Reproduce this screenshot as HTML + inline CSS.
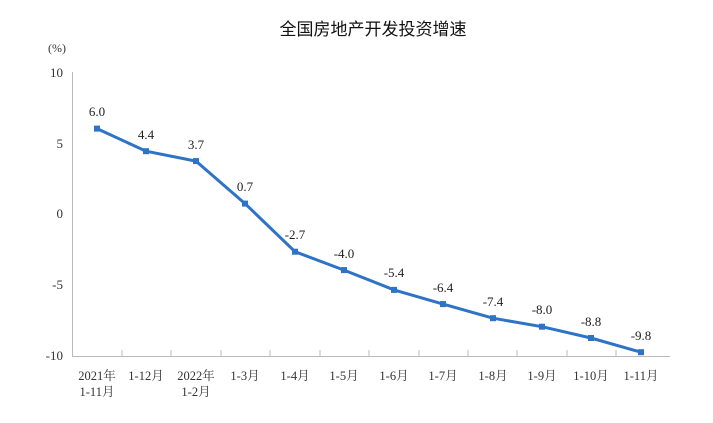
<!DOCTYPE html><html><head><meta charset="utf-8"><style>body{margin:0;background:#fff}</style></head><body>
<svg width="713" height="418" xmlns="http://www.w3.org/2000/svg" font-family="Liberation Serif, Noto Serif CJK SC, serif">
<text x="373" y="35" text-anchor="middle" font-size="17" font-family="Liberation Sans, Noto Sans CJK SC, sans-serif" fill="#111">全国房地产开发投资增速</text>
<text x="48" y="52" font-size="12" fill="#333">(%)</text>
<g font-size="13" fill="#333" text-anchor="end">
<text x="63" y="77">10</text><text x="63" y="148">5</text><text x="63" y="218">0</text><text x="63" y="289">-5</text><text x="63" y="360">-10</text></g>
<line x1="72.5" y1="72" x2="72.5" y2="356" stroke="#bbb"/>
<line x1="72" y1="356.5" x2="670" y2="356.5" stroke="#bbb"/>
<g stroke="#bbb">
<line x1="122" y1="350" x2="122" y2="356"/><line x1="171" y1="350" x2="171" y2="356"/><line x1="221" y1="350" x2="221" y2="356"/><line x1="270" y1="350" x2="270" y2="356"/><line x1="320" y1="350" x2="320" y2="356"/><line x1="369" y1="350" x2="369" y2="356"/><line x1="419" y1="350" x2="419" y2="356"/><line x1="468" y1="350" x2="468" y2="356"/><line x1="517" y1="350" x2="517" y2="356"/><line x1="567" y1="350" x2="567" y2="356"/><line x1="616" y1="350" x2="616" y2="356"/></g>
<g font-size="12.5" fill="#333" text-anchor="middle">
<text x="97" y="380">2021年</text><text x="97" y="396">1-11月</text>
<text x="146" y="380">1-12月</text>
<text x="196" y="380">2022年</text><text x="196" y="396">1-2月</text>
<text x="245" y="380">1-3月</text><text x="295" y="380">1-4月</text><text x="344" y="380">1-5月</text><text x="394" y="380">1-6月</text><text x="443" y="380">1-7月</text><text x="493" y="380">1-8月</text><text x="542" y="380">1-9月</text><text x="591" y="380">1-10月</text><text x="641" y="380">1-11月</text></g>
<polyline fill="none" stroke="#2e73c6" stroke-width="3" stroke-linejoin="round" points="97,128.6 146,151.2 196,161.1 245,203.6 295,251.7 344,270.1 394,289.9 443,304.1 493,318.2 542,326.7 591,338.0 641,352.2"/>
<g fill="#2e73c6">
<rect x="94" y="125.6" width="6" height="6"/><rect x="143" y="148.2" width="6" height="6"/><rect x="193" y="158.1" width="6" height="6"/><rect x="242" y="200.6" width="6" height="6"/><rect x="292" y="248.7" width="6" height="6"/><rect x="341" y="267.1" width="6" height="6"/><rect x="391" y="286.9" width="6" height="6"/><rect x="440" y="301.1" width="6" height="6"/><rect x="490" y="315.2" width="6" height="6"/><rect x="539" y="323.7" width="6" height="6"/><rect x="588" y="335" width="6" height="6"/><rect x="638" y="349.2" width="6" height="6"/></g>
<g font-size="13" fill="#222" text-anchor="middle">
<text x="97" y="116">6.0</text><text x="146" y="139">4.4</text><text x="196" y="149">3.7</text><text x="245" y="191">0.7</text><text x="295" y="239">-2.7</text><text x="344" y="258">-4.0</text><text x="394" y="277">-5.4</text><text x="443" y="292">-6.4</text><text x="493" y="306">-7.4</text><text x="542" y="314">-8.0</text><text x="591" y="326">-8.8</text><text x="641" y="340">-9.8</text></g>
</svg></body></html>
